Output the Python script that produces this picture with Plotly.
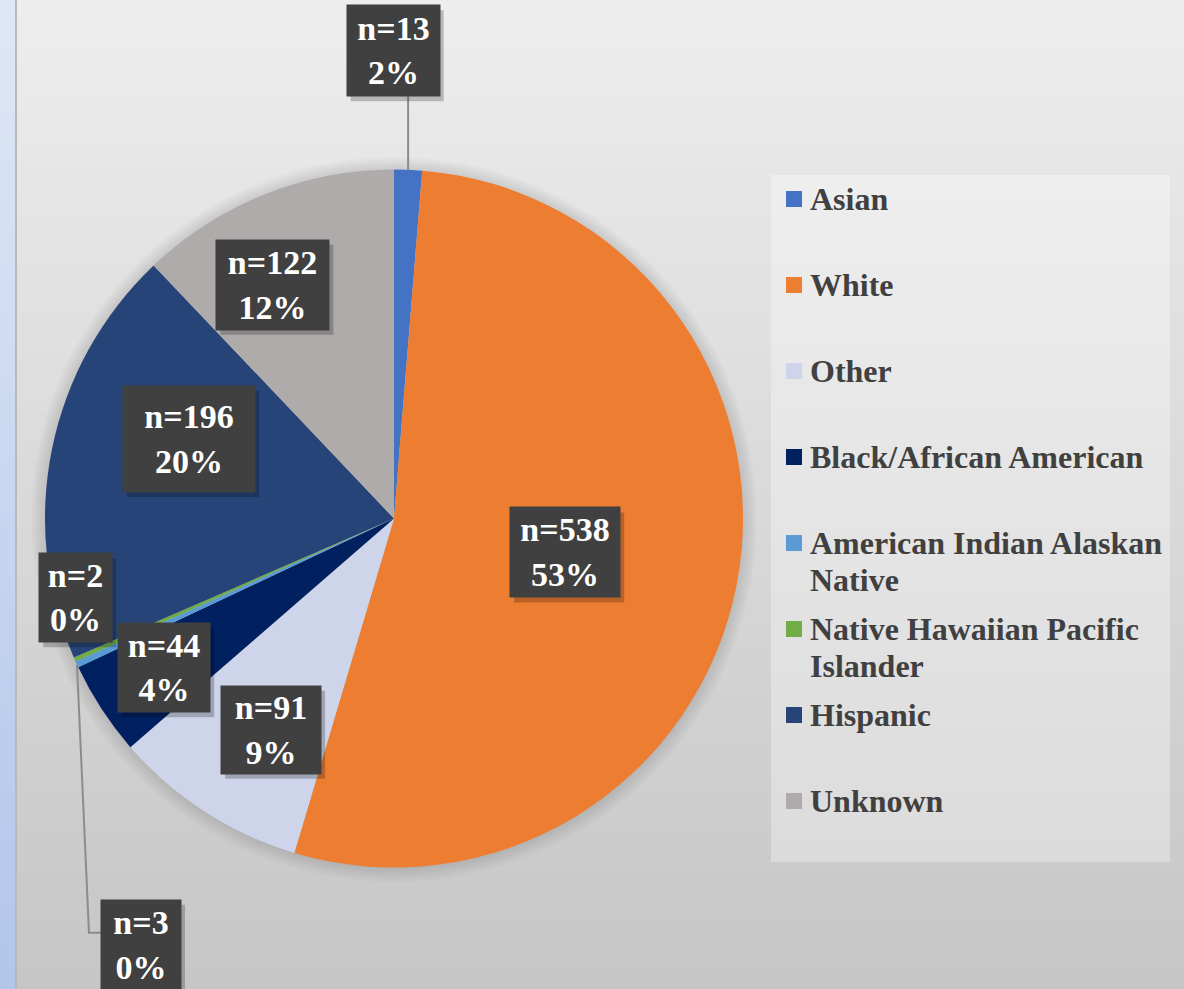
import math
import plotly.graph_objects as go

# ---------------- data ----------------
CATEGORIES = ["Asian", "White", "Other", "Black/African American",
              "American Indian Alaskan Native", "Native Hawaiian Pacific Islander",
              "Hispanic", "Unknown"]
COUNTS = [13, 538, 91, 44, 3, 2, 196, 122]
PERCENT_LABELS = ["2%", "53%", "9%", "4%", "0%", "0%", "20%", "12%"]
LEGEND_LINES = [["Asian"], ["White"], ["Other"], ["Black/African American"],
                ["American Indian Alaskan", "Native"],
                ["Native Hawaiian Pacific", "Islander"],
                ["Hispanic"], ["Unknown"]]

# ---------------- style ----------------
COLORS = ["#4472C4", "#ED7D31", "#CED4EA", "#002060",
          "#5B9BD5", "#70AD47", "#264478", "#AFABAB"]
W, H = 1184, 989
CX, CY, R = 394, 518.5, 349          # pie centre / radius (px)
# label placement: (angle from 12 o'clock clockwise, radius fraction)
LABEL_PLACE = [(-0.1, 1.34), (101.2, 0.50), (210.2, 0.70), (237.0, 0.785),
               (210.7, 1.42), (256.0, 0.94), (291.2, 0.63), (332.6, 0.754)]
LABEL_W = [93, 110, 100, 92, 80, 73, 132, 113]
LABEL_H = [91, 90, 88, 89, 90, 89, 106, 90]
SERIF = "Liberation Serif, Times New Roman, serif"


def px(x):
    return x / W


def py(y):
    return 1 - y / H


def polar(angle_deg, r):
    a = math.radians(angle_deg)
    return CX + r * math.sin(a), CY - r * math.cos(a)


def lerp_hex(c1, c2, t):
    a = [int(c1[i:i + 2], 16) for i in (1, 3, 5)]
    b = [int(c2[i:i + 2], 16) for i in (1, 3, 5)]
    return "#" + "".join(f"{round(a[k] + (b[k] - a[k]) * t):02x}" for k in range(3))


fig = go.Figure()
fig.add_trace(go.Pie(
    labels=CATEGORIES, values=COUNTS, sort=False, direction="clockwise",
    rotation=0, textinfo="none", hoverinfo="label+value+percent",
    marker=dict(colors=COLORS, line=dict(width=0)),
    domain=dict(x=[px(CX - R), px(CX + R)], y=[py(CY + R), py(CY - R)]),
    showlegend=False,
))

shapes = []
# background vertical gradient
NB = 60
for i in range(NB):
    y0, y1 = H * i / NB, H * (i + 1) / NB + 1
    shapes.append(dict(type="rect", xref="paper", yref="paper", layer="below",
                       x0=0, x1=1, y0=py(y1), y1=py(y0), line=dict(width=0),
                       fillcolor=lerp_hex("#ededed", "#c6c6c6", i / (NB - 1))))
# left strip
for i in range(NB):
    y0, y1 = H * i / NB, H * (i + 1) / NB + 1
    shapes.append(dict(type="rect", xref="paper", yref="paper", layer="below",
                       x0=0, x1=px(15), y0=py(y1), y1=py(y0), line=dict(width=0),
                       fillcolor=lerp_hex("#dee7f6", "#b2c6ea", i / (NB - 1))))
shapes.append(dict(type="rect", xref="paper", yref="paper", layer="below",
                   x0=px(15), x1=px(17), y0=0, y1=1, line=dict(width=0),
                   fillcolor="#b9b9b9"))
# soft pie shadow
for k in range(6):
    rr = R + 1 + k * 2.5
    shapes.append(dict(type="circle", xref="paper", yref="paper", layer="below",
                       x0=px(CX - rr), x1=px(CX + rr),
                       y0=py(CY + 1 + rr), y1=py(CY + 1 - rr),
                       line=dict(width=0), fillcolor="rgba(0,0,0,0.018)"))
# legend panel
shapes.append(dict(type="rect", xref="paper", yref="paper", layer="below",
                   x0=px(771), x1=px(1170), y0=py(862), y1=py(175),
                   line=dict(width=0), fillcolor="rgba(255,255,255,0.32)"))

annotations = []
total = sum(COUNTS)
cum = 0
mids = []
for v in COUNTS:
    mids.append((cum + v / 2) / total * 360)
    cum += v

# leader lines
ex, ey = polar(mids[0], R)
lx, ly = polar(LABEL_PLACE[0][0], LABEL_PLACE[0][1] * R)
shapes.append(dict(type="line", xref="paper", yref="paper",
                   x0=px(ex), y0=py(ey), x1=px(ex), y1=py(ly + LABEL_H[0] / 2),
                   line=dict(color="#8c8c8c", width=2)))
ex, ey = polar(mids[4], R)
lx, ly = polar(LABEL_PLACE[4][0], LABEL_PLACE[4][1] * R)
bl = lx - LABEL_W[4] / 2
shapes.append(dict(type="path", xref="paper", yref="paper",
                   path=f"M {px(ex)},{py(ey)} L {px(bl - 12)},{py(ly - 12)} L {px(bl)},{py(ly - 12)}",
                   line=dict(color="#8c8c8c", width=2)))

# data labels
for i, (cat, n, pct) in enumerate(zip(CATEGORIES, COUNTS, PERCENT_LABELS)):
    ang, fr = LABEL_PLACE[i]
    lx, ly = polar(ang, fr * R)
    # box shadow
    shapes.append(dict(type="rect", xref="paper", yref="paper", layer="above",
                       x0=px(lx - LABEL_W[i] / 2 + 4), x1=px(lx + LABEL_W[i] / 2 + 4),
                       y0=py(ly + LABEL_H[i] / 2 + 5), y1=py(ly - LABEL_H[i] / 2 + 5),
                       line=dict(width=0), fillcolor="rgba(0,0,0,0.22)"))
    annotations.append(dict(xref="paper", yref="paper", x=px(lx), y=py(ly),
                            xanchor="center", yanchor="middle",
                            text=f"n={n}<br>{pct}", showarrow=False,
                            width=LABEL_W[i], height=LABEL_H[i], borderpad=0,
                            bgcolor="#404040", align="center", valign="middle",
                            font=dict(family=SERIF, size=34, color="white", weight="bold")))

# legend entries
for i, lines in enumerate(LEGEND_LINES):
    yc = 199 + 86 * i
    shapes.append(dict(type="rect", xref="paper", yref="paper",
                       x0=px(786), x1=px(802), y0=py(yc + 8), y1=py(yc - 8),
                       line=dict(width=0), fillcolor=COLORS[i]))
    for j, t in enumerate(lines):
        annotations.append(dict(xref="paper", yref="paper", x=px(808), y=py(yc + 37 * j),
                                xanchor="left", yanchor="middle", text=t, showarrow=False,
                                font=dict(family=SERIF, size=32, color="#404040", weight="bold")))

fig.update_layout(width=W, height=H, margin=dict(l=0, r=0, t=0, b=0),
                  paper_bgcolor="#dcdcdc", plot_bgcolor="rgba(0,0,0,0)",
                  shapes=shapes, annotations=annotations, showlegend=False)
fig.write_html("out.html", config={"displayModeBar": False},
               post_script="document.body.style.margin='0px';document.body.style.overflow='hidden';")
